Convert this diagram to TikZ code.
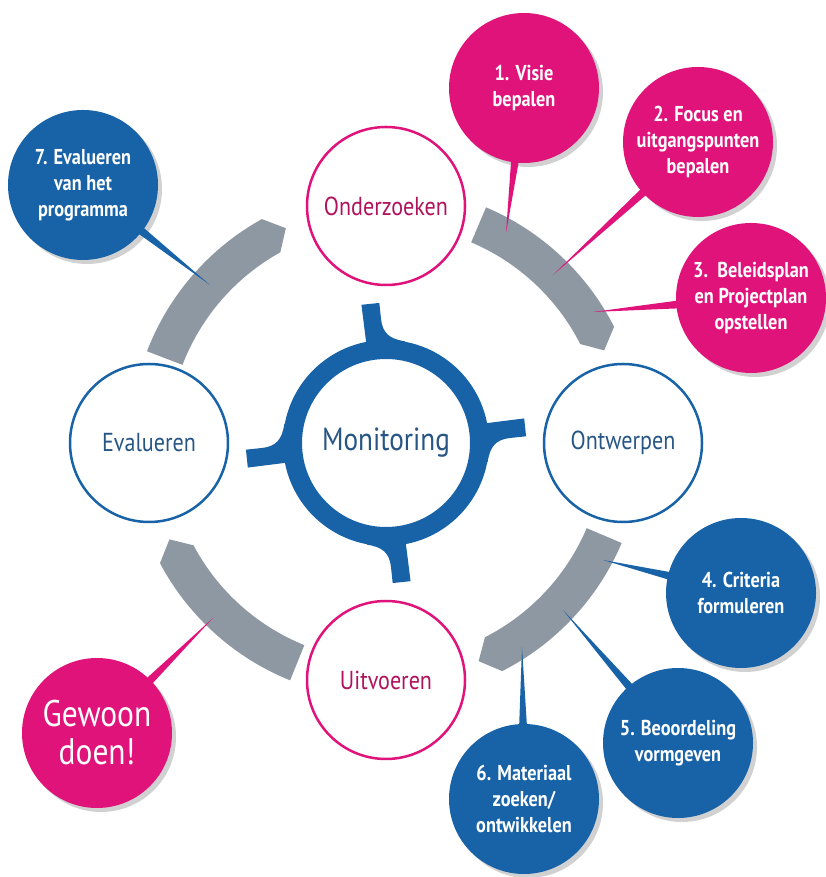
\documentclass[tikz,border=0pt]{standalone}
\usepackage{fontspec}
\setmainfont{PT Sans}[FakeStretch=0.85]
\usetikzlibrary{calc,shadows}

\definecolor{roze}{HTML}{E0137B}
\definecolor{blauw}{HTML}{1863A8}
\definecolor{grijs}{HTML}{8E98A3}
\definecolor{rozetekst}{HTML}{B0125C}
\definecolor{blauwtekst}{HTML}{275685}

\tikzset{
	fase/.style = {circle, draw, line width = 2.5, minimum size = 158, inner sep = 0,
		font = \fontsize{26}{28}\selectfont},
	stap/.style = {circle, minimum size = 150, inner sep = 0, text = white, align = center,
		font = \bfseries\fontsize{21.5}{26}\selectfont,
		drop shadow = {shadow xshift = 4, shadow yshift = -4, fill = black!18, opacity = 1}},
}

\begin{document}
\begin{tikzpicture}[x = 1pt, y = 1pt]
	\useasboundingbox (0, 0) rectangle (825, 877);
	\coordinate (mid) at (386, 434);

	% grijze bogen
	\foreach \c in {46, 138, 227, 316}
		\fill[grijs, shift = {(mid)}] ({\c + 21}: 256) arc[start angle = \c + 21, end angle = \c - 19, radius = 256]
			-- ({\c - 23}: 237) -- ({\c - 19}: 218) arc[start angle = \c - 19, end angle = \c + 21, radius = 218] -- cycle;

	% nokjes van de monitoring-ring
	\foreach \r in {6, 96, 186, 276}
		\fill[blauw, shift = {(mid)}, rotate = \r] (-9, 92) -- (-10, 140) -- (8, 140) -- (8, 124)
			.. controls (8, 110) and (14, 103) .. (30, 99) -- (0, 90) -- cycle;

	\node[circle, draw = blauw, fill = white, line width = 19, minimum size = 187, text = blauwtekst,
		font = \fontsize{32}{34}\selectfont] (mon) at (mid) {Monitoring};

	\node[fase, draw = roze, text = rozetekst] (onder) at (386, 671) {Onderzoeken};
	\node[fase, draw = blauw, text = blauwtekst] (ontw) at (623, 434) {Ontwerpen};
	\node[fase, draw = roze, text = rozetekst] (uitv) at (386, 197) {Uitvoeren};
	\node[fase, draw = blauw, text = blauwtekst] (eval) at (149, 434) {Evalueren};

	% punten op de bogen
	\coordinate (t1) at (506, 644);
	\coordinate (t2) at (553, 602);
	\coordinate (t3) at (593, 565);
	\coordinate (t4) at (603, 317);
	\coordinate (t5) at (563, 267);
	\coordinate (t6) at (522, 230);
	\coordinate (t7) at (210, 592);
	\coordinate (t8) at (213, 259);

	\node[stap, fill = roze] (visie) at (524, 789) {1. Visie\\bepalen};
	\node[stap, fill = roze] (focus) at (698, 735) {2. Focus en\\uitgangspunten\\bepalen};
	\node[stap, fill = roze] (plan) at (751, 579) {3.\ \ Beleidsplan\\en Projectplan\\opstellen};
	\node[stap, fill = blauw] (crit) at (741, 284) {4. Criteria\\formuleren};
	\node[stap, fill = blauw] (beoord) at (678, 134) {5. Beoordeling\\vormgeven};
	\node[stap, fill = blauw] (mat) at (524, 78) {6. Materiaal\\zoeken/\\ontwikkelen};
	\node[stap, fill = roze, font = \fontsize{37}{38}\selectfont] (doen) at (97, 144) {Gewoon\\doen!};
	\node[stap, fill = blauw] (evprog) at (83, 692) {7. Evalueren\\van het\\programma};

	% staartjes
	\foreach \stap/\punt/\kleur in {visie/t1/roze, focus/t2/roze, plan/t3/roze, crit/t4/blauw,
			beoord/t5/blauw, mat/t6/blauw, evprog/t7/blauw, doen/t8/roze}
		\fill[\kleur] ($(\stap.center)!68pt!3.5:(\punt)$) -- (\punt) -- ($(\stap.center)!68pt!-3.5:(\punt)$) -- cycle;
\end{tikzpicture}
\end{document}
